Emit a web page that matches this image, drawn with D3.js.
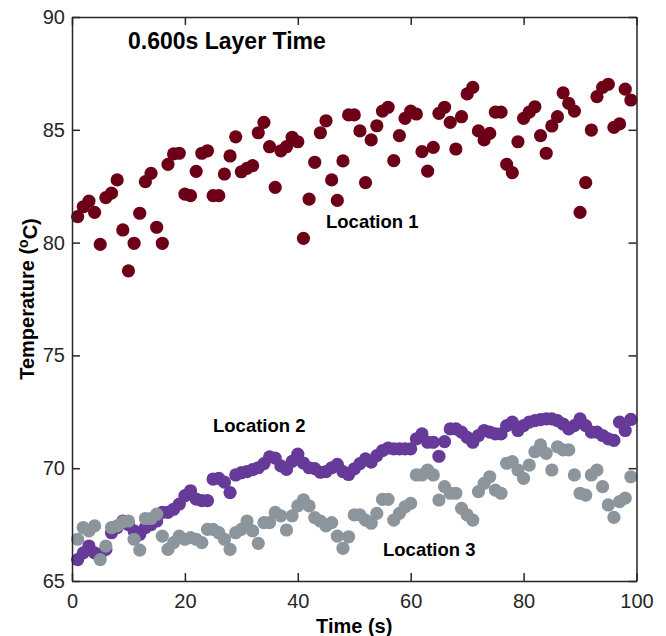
<!DOCTYPE html>
<html>
<head>
<meta charset="utf-8">
<script src="https://cdn.jsdelivr.net/npm/d3@7/dist/d3.min.js"></script>
<style>
  html, body { margin: 0; padding: 0; background: #fff; }
  svg { display: block; font-family: Arial, "Liberation Sans", Helvetica, sans-serif; }
</style>
</head>
<body>
<svg id="chart" width="666" height="636"></svg>
<script>
// ---- Data ----
const times = d3.range(1, 100); // 1..99 s

const location1 = [
  81.15, 81.59, 81.84, 81.34, 79.92, 81.99, 82.19, 82.78, 80.56, 78.75,
  79.97, 81.30, 82.70, 83.07, 80.68, 79.97, 83.47, 83.93, 83.96, 82.15,
  82.08, 83.16, 83.96, 84.07, 82.08, 82.08, 83.04, 83.84, 84.69, 83.14,
  83.29, 83.41, 84.87, 85.33, 84.25, 82.45, 84.07, 84.25, 84.67, 84.47,
  80.19, 81.93, 83.56, 84.87, 85.40, 82.78, 81.87, 83.62, 85.66, 85.66,
  84.95, 82.66, 84.55, 85.18, 85.83, 86.00, 83.63, 84.74, 85.51, 85.83,
  85.70, 84.03, 83.17, 84.22, 85.73, 86.00, 85.33, 84.15, 85.58, 86.59,
  86.88, 84.95, 84.55, 84.84, 85.78, 85.78, 83.47, 83.10, 84.47, 85.51,
  85.78, 86.02, 84.74, 83.96, 85.17, 85.58, 86.64, 86.17, 85.83, 81.34,
  82.66, 84.99, 86.47, 86.88, 87.02, 85.11, 85.26, 86.80, 86.32
];

const location2 = [
  65.95, 66.25, 66.55, 66.25, 66.18, 66.40, 67.14, 67.37, 67.66, 67.50,
  67.22, 67.07, 67.37, 67.50, 67.66, 68.04, 68.04, 68.18, 68.41, 68.78,
  69.00, 68.63, 68.56, 68.56, 69.52, 69.55, 69.38, 68.92, 69.70, 69.80,
  69.85, 69.94, 70.02, 70.20, 70.50, 70.45, 70.10, 69.95, 70.30, 70.62,
  70.23, 70.02, 69.98, 69.82, 69.85, 70.02, 70.17, 69.85, 69.72, 69.97,
  70.20, 70.41, 70.27, 70.56, 70.78, 70.89, 70.86, 70.86, 70.86, 70.86,
  71.30, 71.52, 71.15, 71.15, 70.53, 71.18, 71.74, 71.74, 71.60, 71.37,
  71.15, 71.45, 71.67, 71.60, 71.52, 71.52, 71.89, 72.04, 71.67, 71.89,
  72.04, 72.11, 72.15, 72.19, 72.19, 72.11, 71.96, 71.74, 71.89, 72.19,
  71.89, 71.60, 71.60, 71.45, 71.30, 71.23, 72.04, 71.67, 72.16
];

const location3 = [
  66.85, 67.37, 67.22, 67.44, 65.95, 66.55, 67.37, 67.44, 67.62, 67.66,
  66.85, 66.37, 67.77, 67.77, 67.96, 66.99, 66.40, 66.70, 66.99, 66.85,
  66.92, 66.85, 66.70, 67.29, 67.29, 67.14, 66.85, 66.40, 67.14, 67.29,
  67.66, 67.22, 66.67, 67.59, 67.59, 68.04, 67.89, 67.26, 67.89, 68.33,
  68.60, 68.33, 67.81, 67.66, 67.44, 67.59, 66.99, 66.45, 66.96, 67.93,
  67.93, 67.70, 67.56, 68.00, 68.62, 68.62, 67.70, 68.00, 68.29, 68.44,
  69.70, 69.70, 69.92, 69.70, 68.59, 69.18, 68.89, 68.89, 68.22, 67.93,
  67.70, 68.96, 69.33, 69.62, 69.03, 68.89, 70.22, 70.29, 69.92, 69.55,
  70.14, 70.73, 71.03, 70.66, 69.92, 70.95, 70.81, 70.81, 69.70, 68.89,
  68.81, 69.70, 69.92, 69.18, 68.37, 67.82, 68.52, 68.67, 69.62
];

const xTicks = [0, 20, 40, 60, 80, 100];
const yTicks = [65, 70, 75, 80, 85, 90];

const seriesNames = ["Location 1", "Location 2", "Location 3"];
const seriesColors = ["#6c0017", "#663a99", "#8c959c"];

(function draw() {
  const svg = d3.select("#chart");
  const mLeft = 72, mRight = 636.5, mTop = 17, mBottom = 581;
  const axisColor = "#262626";

  const x = d3.scaleLinear().domain([0, 100]).range([mLeft, mRight]);
  const y = d3.scaleLinear().domain([65, 90]).range([mBottom, mTop]);

  const seriesData = [location1, location2, location3];
  seriesData.forEach((vals, i) => {
    svg.append("g")
      .selectAll("circle")
      .data(times.map((t, k) => ({ t, v: vals[k] })))
      .join("circle")
      .attr("cx", d => x(d.t))
      .attr("cy", d => y(d.v))
      .attr("r", 6.6)
      .attr("fill", seriesColors[i]);
  });

  function styleAxis(g) {
    g.selectAll("path.domain").attr("stroke", axisColor).attr("stroke-width", 1.5);
    g.selectAll(".tick line").attr("stroke", axisColor).attr("stroke-width", 1.5);
    g.selectAll(".tick text").attr("fill", axisColor).style("font-size", "20px")
      .style("font-family", "Arial, 'Liberation Sans', Helvetica, sans-serif");
  }

  svg.append("g")
    .attr("transform", `translate(0,${mBottom})`)
    .call(d3.axisBottom(x).tickValues(xTicks).tickFormat(d3.format("d"))
      .tickSizeInner(-8).tickSizeOuter(0).tickPadding(13))
    .call(styleAxis);

  svg.append("g")
    .attr("transform", `translate(${mLeft},0)`)
    .call(d3.axisLeft(y).tickValues(yTicks).tickFormat(d3.format("d"))
      .tickSizeInner(-8).tickSizeOuter(0).tickPadding(7))
    .call(styleAxis);

  svg.append("g")
    .attr("transform", `translate(0,${mTop})`)
    .call(d3.axisTop(x).tickValues(xTicks).tickFormat("")
      .tickSizeInner(-8).tickSizeOuter(0))
    .call(styleAxis);

  svg.append("g")
    .attr("transform", `translate(${mRight},0)`)
    .call(d3.axisRight(y).tickValues(yTicks).tickFormat("")
      .tickSizeInner(-8).tickSizeOuter(0))
    .call(styleAxis);

  svg.append("text")
    .attr("x", 128).attr("y", 49)
    .attr("fill", "#000")
    .style("font-size", "23px").style("font-weight", "bold")
    .text("0.600s Layer Time");

  const labelPos = [
    { name: seriesNames[0], x: 326, y: 228 },
    { name: seriesNames[1], x: 213, y: 432 },
    { name: seriesNames[2], x: 383, y: 556 }
  ];
  svg.append("g").selectAll("text")
    .data(labelPos)
    .join("text")
    .attr("x", d => d.x).attr("y", d => d.y)
    .attr("fill", "#000")
    .style("font-size", "18.5px").style("font-weight", "bold")
    .text(d => d.name);

  svg.append("text")
    .attr("x", (mLeft + mRight) / 2).attr("y", 633)
    .attr("text-anchor", "middle")
    .attr("fill", "#000")
    .style("font-size", "20px").style("font-weight", "bold")
    .text("Time (s)");

  const yl = svg.append("text")
    .attr("transform", `translate(34,${(mTop + mBottom) / 2}) rotate(-90)`)
    .attr("text-anchor", "middle")
    .attr("fill", "#000")
    .style("font-size", "20px").style("font-weight", "bold");
  yl.append("tspan").text("Temperature (");
  yl.append("tspan").attr("dy", "-0.45em").style("font-size", "14px").text("o");
  yl.append("tspan").attr("dy", "0.45em").text("C)");
})();
</script>
</body>
</html>
